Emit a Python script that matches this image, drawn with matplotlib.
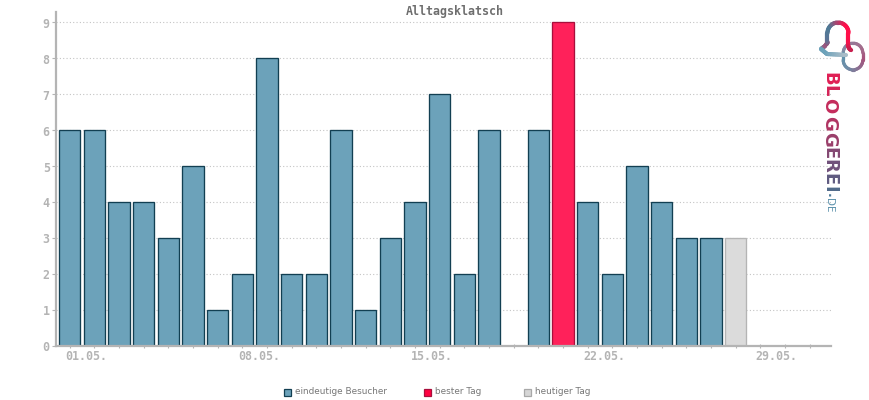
import matplotlib
matplotlib.use("Agg")
import matplotlib.pyplot as plt
import numpy as np
from matplotlib.collections import LineCollection
from matplotlib.transforms import ScaledTranslation

W, H = 870, 400

# visitors per day, 01.05. - 31.05.
days = list(range(1, 32))
visitors = [6, 6, 4, 4, 3, 5, 1, 2, 8, 2, 2, 6, 1, 3, 4, 7, 2, 6, 0, 6, 9, 4, 2, 5, 4, 3, 3, 3, 0, 0, 0]
best_day = 21
today = 28

BLUE, BLUE_EDGE = "#6ca2ba", "#123f52"
RED, RED_EDGE = "#ff215a", "#a80f3c"
GREY, GREY_EDGE = "#dbdbdb", "#b4b4b4"
AXIS = "#b4b4b4"
MONO = "DejaVu Sans Mono"

fig = plt.figure(figsize=(W / 100, H / 100), dpi=100, facecolor="white")
ax = fig.add_axes([56 / W, 1 - 345.5 / H, (831 - 56) / W, (345.5 - 12) / H])

colors, edges = [], []
for d in days:
    if d == best_day:
        colors.append(RED)
        edges.append(RED_EDGE)
    elif d == today:
        colors.append(GREY)
        edges.append(GREY_EDGE)
    else:
        colors.append(BLUE)
        edges.append(BLUE_EDGE)

nonzero = [i for i, v in enumerate(visitors) if v > 0]
ax.bar(
    [days[i] for i in nonzero],
    [visitors[i] for i in nonzero],
    width=0.865,
    color=[colors[i] for i in nonzero],
    edgecolor=[edges[i] for i in nonzero],
    linewidth=0.95,
    zorder=3,
)

ax.set_xlim(0.44, 31.86)
ax.set_ylim(0, 333.5 / 35.9)

ax.yaxis.grid(True, linestyle=(0, (1, 2)), color="#c4c4c4", linewidth=0.8, zorder=1)
ax.set_axisbelow(True)

for side in ("top", "right"):
    ax.spines[side].set_visible(False)
for side in ("left", "bottom"):
    ax.spines[side].set_color(AXIS)
    ax.spines[side].set_linewidth(1.6)
    ax.spines[side].set_zorder(4)

ax.set_yticks(range(0, 10))
ax.set_xticks(days)
ax.set_xticklabels([])
ax.tick_params(axis="y", length=3, width=0.8, color=AXIS, labelsize=8.4, labelcolor=AXIS, pad=1.5)
ax.tick_params(axis="x", length=3, width=0.8, color=AXIS, direction="inout")
# the number sits a little below its tick
y_shift = ScaledTranslation(0, -1.5 / 72, fig.dpi_scale_trans)
for lab in ax.get_yticklabels():
    lab.set_family(MONO)
    lab.set_fontweight("bold")
    lab.set_verticalalignment("center")
    lab.set_transform(lab.get_transform() + y_shift)

# date labels sit just left of their tick, running to the right
for d in days[::7]:
    ax.annotate(
        f"{d:02d}.05.", (d, 0), xytext=(-3.3, -8.2), textcoords="offset points",
        ha="left", va="center", family=MONO, fontweight="bold",
        fontsize=8.4, color=AXIS, annotation_clip=False,
    )

fig.text(455 / W, 1 - 12 / H, "Alltagsklatsch", ha="center", va="center",
         family=MONO, fontweight="bold", fontsize=8.4, color="#6e6e6e")

# legend
legend_items = [
    (287.5, "eindeutige Besucher", BLUE, BLUE_EDGE),
    (427.5, "bester Tag", "#ff0040", "#a80f3c"),
    (527.5, "heutiger Tag", "#d6d6d6", "#a8a8a8"),
]
for px, label, fc, ec in legend_items:
    fig.patches.append(plt.Rectangle((px - 3.5, H - 395.5), 7, 7, transform=None,
                                     facecolor=fc, edgecolor=ec, linewidth=0.9, figure=fig))
    fig.text((px + 7.5) / W, 1 - 392 / H, label, ha="left", va="center",
             fontsize=6.4, color="#777777")

# logo, in pixel coordinates of the image
logo = fig.add_axes([0, 0, 1, 1], facecolor="none", zorder=5)
logo.set_xlim(0, W)
logo.set_ylim(H, 0)
logo.axis("off")


def gradient_line(pts, stops, lw):
    """Draw polyline `pts` with colours running through `stops`"""
    pts = np.array(pts, dtype=float)
    rgb = np.array([matplotlib.colors.to_rgb(c) for c in stops])
    t = np.linspace(0, 1, len(pts) - 1)
    pos = np.linspace(0, 1, len(stops))
    cols = np.column_stack([np.interp(t, pos, rgb[:, i]) for i in range(3)])
    segs = np.stack([pts[:-1], pts[1:]], axis=1)
    logo.add_collection(LineCollection(segs, colors=cols, linewidths=lw, capstyle="round"))


def arc(cx, cy, r, a0, a1, n=24):
    a = np.radians(np.linspace(a0, a1, n))
    return np.column_stack([cx + r * np.cos(a), cy + r * np.sin(a)])


def line(p0, p1, n=12):
    return np.linspace(p0, p1, n)


# ring behind the bubble
ring = np.vstack([arc(853, 53, 9.8, 180, 360), line((862.8, 53), (862.8, 60)),
                  arc(853, 60, 9.8, 0, 180), line((843.2, 60), (843.2, 53))])
gradient_line(ring, ["#7d8fa8", "#a3708f", "#a8507a", "#6f8ea8", "#5f93ad"], 2.3)

# bubble outline, from the tail over the top to the right side
bubble = np.vstack([line((821, 49), (825, 46)), arc(825, 42, 2.5, 60, 0, 8),
                    line((827.5, 42), (827.5, 33)), arc(838, 33, 10.5, 180, 360),
                    line((848.5, 33), (848.5, 46)), arc(853, 46, 4.5, 180, 115, 8)])
gradient_line(bubble, ["#6ca2ba", "#a0507a", "#5a7496", "#4f7a96", "#ff0f4a", "#ff0f4a", "#c8204f"], 3.0)

bottom = np.vstack([line((821, 49), (827, 54)), line((827, 54), (846, 55))])
gradient_line(bottom, ["#6ca2ba", "#6ca2ba", "#a9bcc8"], 3.0)

word = "BLOGGEREI"
word_colors = ["#e01f55", "#d42458", "#c42c5c", "#b03462", "#9a3e6a", "#844872", "#70507a", "#5f5a80", "#506a8a"]
word_y = [79, 91, 105.5, 123.5, 139.5, 153.5, 166, 179, 189]
for ch, col, yy in zip(word, word_colors, word_y):
    logo.text(829.5, yy, ch, rotation=-90, ha="center", va="center", fontsize=13,
              color=col, family="DejaVu Sans", fontweight="bold")
logo.text(830, 195.5, ".", rotation=-90, ha="center", va="center", fontsize=9, color="#4f7a9a", fontweight="bold")
for ch, yy in zip("DE", [202, 209]):
    logo.text(829, yy, ch, rotation=-90, ha="center", va="center", fontsize=7.5, color="#5f93ad")

fig.savefig("out.png", dpi=100)
